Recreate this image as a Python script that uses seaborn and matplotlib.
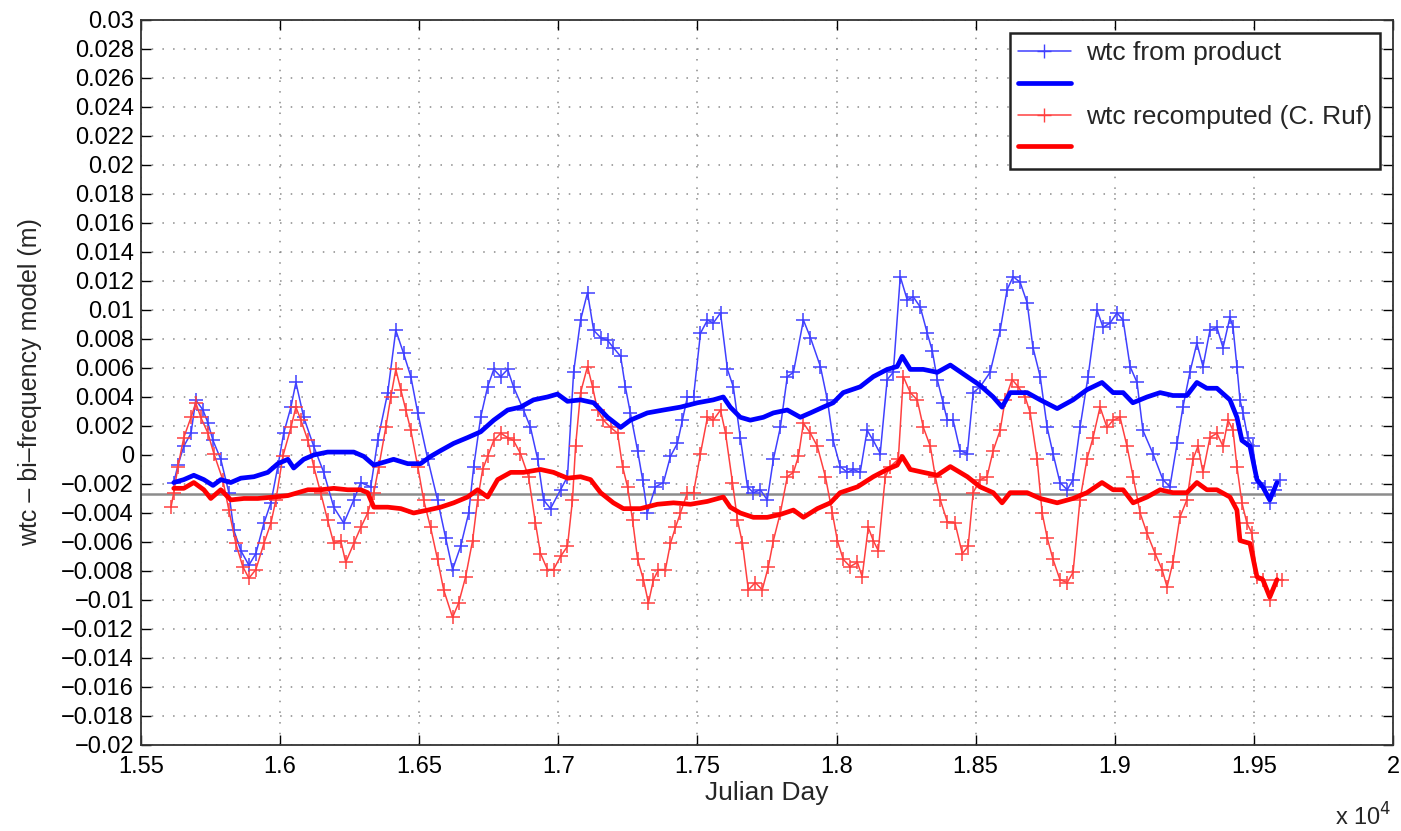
import numpy as np
import pandas as pd
import matplotlib
matplotlib.use("Agg")
import matplotlib.pyplot as plt
from matplotlib.lines import Line2D
from matplotlib.ticker import FuncFormatter, MultipleLocator
import seaborn as sns

# ---------------- data (Julian day, metres) ----------------
prod_days = [15618, 15633, 15654, 15680, 15697, 15723, 15741, 15759, 15787, 15816,
             15834, 15859, 15888, 15913, 15942, 15967, 15992, 16013, 16039, 16057,
             16085, 16121, 16157, 16193, 16229, 16265, 16290, 16326, 16351, 16387,
             16416, 16444, 16470, 16495, 16531, 16566, 16595, 16620, 16649, 16678,
             16696, 16721, 16746, 16768, 16793, 16818, 16839, 16875, 16900, 16926,
             16947, 16972, 17008, 17033, 17055, 17080, 17105, 17127, 17152, 17177,
             17198, 17224, 17241, 17259, 17285, 17303, 17320, 17349, 17378, 17403,
             17428, 17446, 17464, 17486, 17511, 17536, 17557, 17583, 17608, 17629,
             17654, 17680, 17701, 17726, 17751, 17773, 17798, 17823, 17845, 17881,
             17906, 17942, 17967, 17988, 18013, 18039, 18060, 18085, 18110, 18132,
             18157, 18182, 18204, 18229, 18254, 18276, 18301, 18326, 18344, 18362,
             18383, 18398, 18419, 18444, 18470, 18491, 18516, 18552, 18588, 18613,
             18635, 18660, 18685, 18706, 18732, 18757, 18778, 18803, 18829, 18850,
             18875, 18904, 18936, 18958, 18983, 19008, 19030, 19055, 19080, 19101,
             19137, 19173, 19198, 19224, 19245, 19270, 19295, 19317, 19342, 19367,
             19389, 19414, 19425, 19439, 19450, 19461, 19478, 19496, 19514, 19540,
             19557, 19575, 19593]
prod_vals = [-0.0019, -0.0007, 0.0006, 0.0015, 0.0038, 0.0031, 0.0022, 0.0010, -0.0003, -0.0026,
             -0.0052, -0.0066, -0.0076, -0.0068, -0.0047, -0.0033, -0.0008, 0.0015, 0.0033, 0.0050,
             0.0026, 0.0006, -0.0012, -0.0036, -0.0047, -0.0031, -0.0019, -0.0022, 0.0010, 0.0043,
             0.0086, 0.0070, 0.0054, 0.0029, -0.0003, -0.0031, -0.0057, -0.0079, -0.0063, -0.0040,
             -0.0008, 0.0026, 0.0047, 0.0059, 0.0054, 0.0059, 0.0047, 0.0031, 0.0019, -0.0003,
             -0.0031, -0.0037, -0.0024, -0.0015, 0.0057, 0.0093, 0.0112, 0.0086, 0.0081, 0.0079,
             0.0074, 0.0068, 0.0047, 0.0029, 0.0003, -0.0017, -0.0040, -0.0022, -0.0019, -0.0001,
             0.0008, 0.0024, 0.0040, 0.0040, 0.0084, 0.0093, 0.0091, 0.0098, 0.0059, 0.0047,
             0.0012, -0.0022, -0.0026, -0.0024, -0.0031, -0.0003, 0.0019, 0.0054, 0.0057, 0.0093,
             0.0081, 0.0061, 0.0038, 0.0010, -0.0008, -0.0012, -0.0010, -0.0012, 0.0017, 0.0010,
             0.0001, 0.0052, 0.0057, 0.0123, 0.0107, 0.0109, 0.0102, 0.0084, 0.0072, 0.0052,
             0.0036, 0.0024, 0.0024, 0.0003, 0.0001, 0.0043, 0.0047, 0.0057, 0.0086, 0.0114,
             0.0123, 0.0119, 0.0105, 0.0074, 0.0054, 0.0019, 0.0001, -0.0019, -0.0024, -0.0017,
             0.0019, 0.0054, 0.0100, 0.0088, 0.0091, 0.0098, 0.0093, 0.0061, 0.0050, 0.0017,
             0.0001, -0.0017, -0.0022, 0.0008, 0.0033, 0.0057, 0.0077, 0.0061, 0.0086, 0.0088,
             0.0074, 0.0095, 0.0088, 0.0061, 0.0038, 0.0029, 0.0012, 0.0006, -0.0019, -0.0022,
             -0.0033, -0.0024, -0.0017]

prod_smooth_days = [15618, 15654, 15690, 15726, 15759, 15787, 15823, 15859, 15906, 15956,
                    15992, 16028, 16049, 16085, 16121, 16171, 16218, 16265, 16301, 16337,
                    16373, 16408, 16459, 16505, 16541, 16577, 16624, 16674, 16721, 16768,
                    16818, 16864, 16911, 16961, 16997, 17033, 17080, 17127, 17177, 17224,
                    17259, 17320, 17378, 17439, 17500, 17557, 17593, 17618, 17654, 17690,
                    17737, 17773, 17823, 17870, 17906, 17952, 17988, 18024, 18085, 18132,
                    18182, 18218, 18236, 18265, 18312, 18362, 18409, 18470, 18516, 18563,
                    18595, 18624, 18685, 18732, 18793, 18850, 18900, 18954, 18994, 19030,
                    19065, 19116, 19163, 19209, 19259, 19295, 19331, 19367, 19414, 19439,
                    19457, 19486, 19511, 19532, 19557, 19583]
prod_smooth_vals = [-0.0019, -0.0017, -0.0014, -0.0017, -0.0021, -0.0017, -0.0019, -0.0016, -0.0015, -0.0012,
                    -0.0006, -0.0003, -0.0009, -0.0003, 0.0000, 0.0002, 0.0002, 0.0002, -0.0001, -0.0007,
                    -0.0005, -0.0003, -0.0006, -0.0006, -0.0001, 0.0003, 0.0008, 0.0012, 0.0016, 0.0024,
                    0.0031, 0.0033, 0.0038, 0.0040, 0.0042, 0.0037, 0.0038, 0.0036, 0.0026, 0.0019,
                    0.0024, 0.0029, 0.0031, 0.0033, 0.0036, 0.0038, 0.0040, 0.0033, 0.0026, 0.0024,
                    0.0026, 0.0029, 0.0031, 0.0026, 0.0029, 0.0033, 0.0036, 0.0043, 0.0047, 0.0054,
                    0.0059, 0.0061, 0.0068, 0.0059, 0.0059, 0.0057, 0.0062, 0.0054, 0.0048, 0.0040,
                    0.0033, 0.0043, 0.0043, 0.0038, 0.0032, 0.0038, 0.0045, 0.0050, 0.0043, 0.0043,
                    0.0036, 0.0040, 0.0043, 0.0041, 0.0041, 0.0050, 0.0046, 0.0046, 0.0038, 0.0026,
                    0.0010, 0.0006, -0.0017, -0.0022, -0.0031, -0.0019]

ruf_days = [15608, 15618, 15633, 15654, 15680, 15697, 15715, 15741, 15762, 15794,
            15816, 15841, 15866, 15888, 15913, 15942, 15967, 15985, 16010, 16039,
            16057, 16075, 16100, 16121, 16146, 16171, 16193, 16218, 16236, 16265,
            16290, 16315, 16337, 16355, 16380, 16398, 16416, 16434, 16452, 16470,
            16495, 16516, 16541, 16566, 16588, 16620, 16642, 16667, 16692, 16710,
            16728, 16746, 16768, 16793, 16818, 16839, 16864, 16893, 16918, 16936,
            16961, 16983, 17008, 17033, 17051, 17062, 17080, 17105, 17123, 17141,
            17162, 17188, 17213, 17231, 17249, 17267, 17285, 17306, 17324, 17342,
            17360, 17385, 17403, 17421, 17439, 17464, 17486, 17511, 17536, 17557,
            17583, 17601, 17626, 17644, 17662, 17683, 17708, 17733, 17755, 17773,
            17798, 17823, 17845, 17863, 17881, 17906, 17931, 17960, 17985, 18003,
            18024, 18049, 18075, 18092, 18114, 18132, 18150, 18175, 18193, 18222,
            18240, 18265, 18290, 18312, 18337, 18355, 18373, 18398, 18426, 18452,
            18473, 18491, 18516, 18541, 18563, 18588, 18606, 18631, 18653, 18678,
            18696, 18721, 18739, 18757, 18778, 18803, 18829, 18850, 18875, 18900,
            18922, 18947, 18972, 18994, 19019, 19044, 19066, 19091, 19116, 19145,
            19170, 19188, 19209, 19234, 19259, 19281, 19299, 19317, 19342, 19367,
            19389, 19407, 19425, 19439, 19457, 19475, 19493, 19511, 19532, 19557,
            19583, 19601]
ruf_vals = [-0.0036, -0.0026, -0.0008, 0.0012, 0.0026, 0.0036, 0.0026, 0.0015, 0.0001, -0.0017,
            -0.0038, -0.0061, -0.0077, -0.0085, -0.0079, -0.0061, -0.0047, -0.0031, -0.0001, 0.0019,
            0.0033, 0.0024, 0.0010, -0.0008, -0.0026, -0.0045, -0.0061, -0.0059, -0.0074, -0.0061,
            -0.0050, -0.0040, -0.0026, -0.0008, 0.0019, 0.0040, 0.0059, 0.0045, 0.0031, 0.0017,
            -0.0008, -0.0031, -0.0050, -0.0072, -0.0093, -0.0112, -0.0102, -0.0084, -0.0059, -0.0031,
            -0.0010, -0.0001, 0.0010, 0.0015, 0.0012, 0.0010, 0.0001, -0.0015, -0.0047, -0.0068,
            -0.0079, -0.0079, -0.0070, -0.0063, -0.0031, 0.0006, 0.0043, 0.0061, 0.0047, 0.0031,
            0.0024, 0.0019, 0.0015, -0.0008, -0.0022, -0.0045, -0.0072, -0.0086, -0.0102, -0.0086,
            -0.0079, -0.0079, -0.0061, -0.0050, -0.0040, -0.0026, -0.0026, 0.0001, 0.0026, 0.0024,
            0.0031, 0.0015, -0.0019, -0.0045, -0.0061, -0.0093, -0.0088, -0.0093, -0.0077, -0.0059,
            -0.0040, -0.0015, -0.0012, -0.0001, 0.0022, 0.0015, 0.0006, -0.0015, -0.0040, -0.0059,
            -0.0072, -0.0077, -0.0074, -0.0084, -0.0050, -0.0059, -0.0066, -0.0015, -0.0008, -0.0003,
            0.0054, 0.0043, 0.0038, 0.0019, 0.0006, -0.0015, -0.0031, -0.0046, -0.0047, -0.0068,
            -0.0063, -0.0026, -0.0017, -0.0015, 0.0003, 0.0017, 0.0038, 0.0052, 0.0047, 0.0040,
            0.0029, -0.0003, -0.0040, -0.0057, -0.0072, -0.0086, -0.0088, -0.0081, -0.0031, -0.0003,
            0.0012, 0.0033, 0.0019, 0.0024, 0.0026, 0.0006, -0.0015, -0.0040, -0.0054, -0.0068,
            -0.0079, -0.0091, -0.0074, -0.0043, -0.0031, -0.0003, 0.0006, -0.0012, 0.0012, 0.0015,
            0.0006, 0.0024, 0.0017, -0.0008, -0.0033, -0.0047, -0.0054, -0.0084, -0.0086, -0.0100,
            -0.0086, -0.0086]

ruf_smooth_days = [15618, 15654, 15690, 15726, 15751, 15787, 15823, 15870, 15920, 15978,
                   16028, 16064, 16100, 16146, 16193, 16243, 16290, 16315, 16337, 16387,
                   16434, 16480, 16531, 16577, 16624, 16674, 16710, 16746, 16782, 16829,
                   16875, 16936, 16983, 17033, 17080, 17116, 17152, 17198, 17234, 17295,
                   17356, 17414, 17475, 17536, 17593, 17618, 17654, 17701, 17751, 17798,
                   17845, 17881, 17931, 17978, 18013, 18075, 18132, 18182, 18218, 18236,
                   18265, 18312, 18362, 18409, 18470, 18516, 18563, 18595, 18624, 18685,
                   18732, 18793, 18850, 18900, 18954, 18994, 19030, 19066, 19116, 19163,
                   19209, 19259, 19295, 19331, 19367, 19414, 19439, 19450, 19486, 19511,
                   19532, 19557, 19583]
ruf_smooth_vals = [-0.0023, -0.0023, -0.0019, -0.0024, -0.0030, -0.0024, -0.0031, -0.0030, -0.0030, -0.0029,
                   -0.0028, -0.0026, -0.0024, -0.0024, -0.0023, -0.0024, -0.0024, -0.0026, -0.0036, -0.0036,
                   -0.0037, -0.0040, -0.0038, -0.0036, -0.0033, -0.0029, -0.0024, -0.0029, -0.0017, -0.0012,
                   -0.0012, -0.0010, -0.0012, -0.0016, -0.0015, -0.0017, -0.0026, -0.0033, -0.0037, -0.0037,
                   -0.0034, -0.0033, -0.0034, -0.0032, -0.0029, -0.0036, -0.0040, -0.0043, -0.0043, -0.0041,
                   -0.0038, -0.0043, -0.0037, -0.0033, -0.0026, -0.0022, -0.0015, -0.0010, -0.0007, -0.0001,
                   -0.0010, -0.0012, -0.0014, -0.0008, -0.0015, -0.0022, -0.0026, -0.0033, -0.0026, -0.0026,
                   -0.0030, -0.0033, -0.0030, -0.0026, -0.0019, -0.0024, -0.0024, -0.0033, -0.0029, -0.0024,
                   -0.0026, -0.0026, -0.0019, -0.0024, -0.0024, -0.0029, -0.0038, -0.0059, -0.0061, -0.0084,
                   -0.0086, -0.0098, -0.0086]

reference_level = -0.0027
legend_labels = ["wtc from product", "", "wtc recomputed (C. Ruf)", ""]
x_label = "Julian Day"
y_label = "wtc \u2013 bi\u2013frequency model (m)"

# ---------------- figure ----------------
sns.set_style("ticks")
plt.rcParams["font.family"] = ["Liberation Sans", "DejaVu Sans"]
plt.rcParams["axes.unicode_minus"] = True

fig = plt.figure(figsize=(14.01, 8.31), dpi=100)
ax = fig.add_axes([0.1006, 0.1035, 0.8937, 0.8725])

df_prod = pd.DataFrame({"day": prod_days, "val": prod_vals})
df_prod_s = pd.DataFrame({"day": prod_smooth_days, "val": prod_smooth_vals})
df_ruf = pd.DataFrame({"day": ruf_days, "val": ruf_vals})
df_ruf_s = pd.DataFrame({"day": ruf_smooth_days, "val": ruf_smooth_vals})

thin_blue = "#4040ff"
thin_red = "#ff4040"

ax.axhline(reference_level, color="#8c8c8c", linewidth=1.8, zorder=1)

sns.lineplot(data=df_prod, x="day", y="val", ax=ax, color=thin_blue, linewidth=1.1,
             marker="+", markersize=10, markeredgewidth=1.1, markeredgecolor=thin_blue,
             estimator=None, sort=False, zorder=3)
sns.lineplot(data=df_prod_s, x="day", y="val", ax=ax, color="#0000ff", linewidth=3.4,
             estimator=None, sort=False, zorder=4)
sns.lineplot(data=df_ruf, x="day", y="val", ax=ax, color=thin_red, linewidth=1.1,
             marker="+", markersize=10, markeredgewidth=1.1, markeredgecolor=thin_red,
             estimator=None, sort=False, zorder=3)
sns.lineplot(data=df_ruf_s, x="day", y="val", ax=ax, color="#ff0000", linewidth=3.4,
             estimator=None, sort=False, zorder=4)

ax.set_xlim(15500, 20000)
ax.set_ylim(-0.02, 0.03)
ax.xaxis.set_major_locator(MultipleLocator(500))
ax.yaxis.set_major_locator(MultipleLocator(0.002))
ax.xaxis.set_major_formatter(FuncFormatter(lambda v, p: f"{v / 1e4:g}"))
ax.yaxis.set_major_formatter(FuncFormatter(lambda v, p: f"{round(v, 4):g}".replace("-", "\u2212")))

ax.grid(True, linestyle=(0, (1, 6)), color="#8a8a8a", linewidth=1.1)
ax.tick_params(direction="in", top=True, right=True, length=7, width=1,
               labelsize=17, colors="black", pad=5)
ax.tick_params(axis="x", pad=8)
for s in ax.spines.values():
    s.set_visible(True)
    s.set_color("#333333")
    s.set_linewidth(1.3)

ax.set_xlabel(x_label, fontsize=19, labelpad=2)
ax.set_ylabel(y_label, fontsize=18, labelpad=14)

fig.text(0.993, 0.0, r"x 10$^{4}$", fontsize=17, ha="right", va="bottom")

handles = [
    Line2D([], [], color=thin_blue, linewidth=1.1, marker="+", markersize=10),
    Line2D([], [], color="#0000ff", linewidth=3.4),
    Line2D([], [], color=thin_red, linewidth=1.1, marker="+", markersize=10),
    Line2D([], [], color="#ff0000", linewidth=3.4),
]
leg = ax.legend(handles, legend_labels, loc="upper right", bbox_to_anchor=(0.990, 0.982),
                fontsize=19, frameon=True, fancybox=False, edgecolor="#222222",
                handlelength=2.0, handletextpad=0.6, borderpad=0.3, labelspacing=0.3,
                borderaxespad=0.0)
leg.get_frame().set_linewidth(1.8)
leg.get_frame().set_alpha(1.0)

fig.savefig("out.png", dpi=100, facecolor="white")
